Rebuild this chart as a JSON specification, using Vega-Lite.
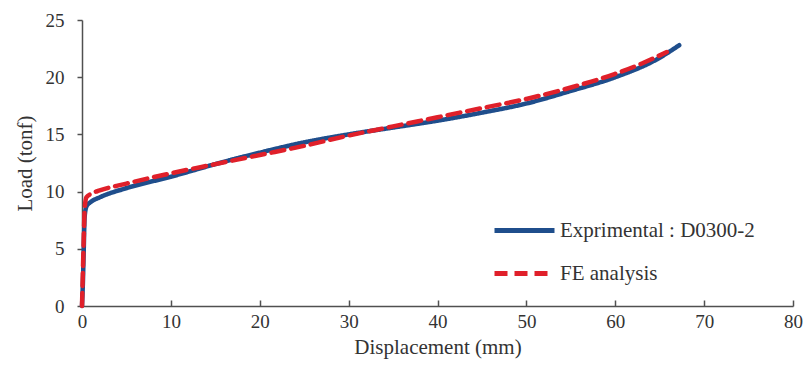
{
  "$schema": "https://vega.github.io/schema/vega-lite/v6.json",
  "autosize": "none",
  "width": 711,
  "height": 286,
  "padding": {"left": 82, "top": 20, "right": 13, "bottom": 68},
  "background": "white",
  "config": {
    "font": "Liberation Serif",
    "view": {"stroke": null},
    "axis": {
      "grid": false,
      "labelFlush": false,
      "domainColor": "#505050",
      "domainWidth": 1.5,
      "tickColor": "#505050",
      "tickWidth": 1.5,
      "labelFont": "Liberation Serif",
      "labelFontSize": 19,
      "labelColor": "#333333",
      "titleFont": "Liberation Serif",
      "titleFontSize": 21,
      "titleFontWeight": "normal",
      "titleColor": "#333333"
    },
    "legend": {
      "labelFont": "Liberation Serif",
      "labelFontSize": 21,
      "labelColor": "#333333",
      "labelLimit": 0
    }
  },
  "data": {
    "values": [
      {"series": "Exprimental : D0300-2", "x": 0, "y": 0},
      {"series": "Exprimental : D0300-2", "x": 0.1, "y": 2},
      {"series": "Exprimental : D0300-2", "x": 0.2, "y": 5},
      {"series": "Exprimental : D0300-2", "x": 0.3, "y": 7.8},
      {"series": "Exprimental : D0300-2", "x": 0.5, "y": 8.7},
      {"series": "Exprimental : D0300-2", "x": 1, "y": 9.1},
      {"series": "Exprimental : D0300-2", "x": 2, "y": 9.5},
      {"series": "Exprimental : D0300-2", "x": 5, "y": 10.3},
      {"series": "Exprimental : D0300-2", "x": 10, "y": 11.3},
      {"series": "Exprimental : D0300-2", "x": 15, "y": 12.4},
      {"series": "Exprimental : D0300-2", "x": 20, "y": 13.4},
      {"series": "Exprimental : D0300-2", "x": 25, "y": 14.3},
      {"series": "Exprimental : D0300-2", "x": 30, "y": 15.0},
      {"series": "Exprimental : D0300-2", "x": 35, "y": 15.6},
      {"series": "Exprimental : D0300-2", "x": 40, "y": 16.2},
      {"series": "Exprimental : D0300-2", "x": 45, "y": 16.9},
      {"series": "Exprimental : D0300-2", "x": 50, "y": 17.7},
      {"series": "Exprimental : D0300-2", "x": 55, "y": 18.8},
      {"series": "Exprimental : D0300-2", "x": 60, "y": 20.0},
      {"series": "Exprimental : D0300-2", "x": 65, "y": 21.7},
      {"series": "Exprimental : D0300-2", "x": 67.2, "y": 22.8},
      {"series": "FE analysis", "x": 0, "y": 0},
      {"series": "FE analysis", "x": 0.1, "y": 3},
      {"series": "FE analysis", "x": 0.2, "y": 6},
      {"series": "FE analysis", "x": 0.3, "y": 8.5},
      {"series": "FE analysis", "x": 0.5, "y": 9.5},
      {"series": "FE analysis", "x": 1, "y": 9.8},
      {"series": "FE analysis", "x": 2, "y": 10.1},
      {"series": "FE analysis", "x": 5, "y": 10.7},
      {"series": "FE analysis", "x": 10, "y": 11.6},
      {"series": "FE analysis", "x": 15, "y": 12.4},
      {"series": "FE analysis", "x": 20, "y": 13.2},
      {"series": "FE analysis", "x": 25, "y": 14.0},
      {"series": "FE analysis", "x": 30, "y": 14.9},
      {"series": "FE analysis", "x": 35, "y": 15.7},
      {"series": "FE analysis", "x": 40, "y": 16.5},
      {"series": "FE analysis", "x": 45, "y": 17.3},
      {"series": "FE analysis", "x": 50, "y": 18.1},
      {"series": "FE analysis", "x": 55, "y": 19.1},
      {"series": "FE analysis", "x": 60, "y": 20.3},
      {"series": "FE analysis", "x": 63, "y": 21.2},
      {"series": "FE analysis", "x": 65.8, "y": 22.2}
    ]
  },
  "mark": {"type": "line", "strokeWidth": 4.5, "strokeCap": "round", "interpolate": "monotone"},
  "encoding": {
    "x": {
      "field": "x", "type": "quantitative",
      "scale": {"domain": [0, 80], "nice": false, "zero": false},
      "axis": {"values": [0, 10, 20, 30, 40, 50, 60, 70, 80], "tickSize": -6, "labelPadding": 12, "title": "Displacement (mm)", "titlePadding": 5}
    },
    "y": {
      "field": "y", "type": "quantitative",
      "scale": {"domain": [0, 25], "nice": false},
      "axis": {"values": [0, 5, 10, 15, 20, 25], "tickSize": 5, "labelPadding": 13, "title": "Load (tonf)", "titlePadding": 10}
    },
    "color": {
      "field": "series", "type": "nominal",
      "scale": {"domain": ["Exprimental : D0300-2", "FE analysis"], "range": ["#1f4e8c", "#e0202a"]},
      "legend": {
        "title": null,
        "orient": "none",
        "legendX": 410,
        "legendY": 178,
        "symbolType": "stroke",
        "symbolSize": 3600,
        "symbolStrokeWidth": 5,
        "rowPadding": -60,
        "labelOffset": 3
      }
    },
    "strokeDash": {
      "field": "series", "type": "nominal",
      "scale": {"domain": ["Exprimental : D0300-2", "FE analysis"], "range": [[1, 0], [13, 7]]},
      "legend": {
        "title": null,
        "orient": "none",
        "legendX": 410,
        "legendY": 178,
        "symbolType": "stroke",
        "symbolSize": 3600,
        "symbolStrokeWidth": 5,
        "rowPadding": -60,
        "labelOffset": 3
      }
    }
  }
}
